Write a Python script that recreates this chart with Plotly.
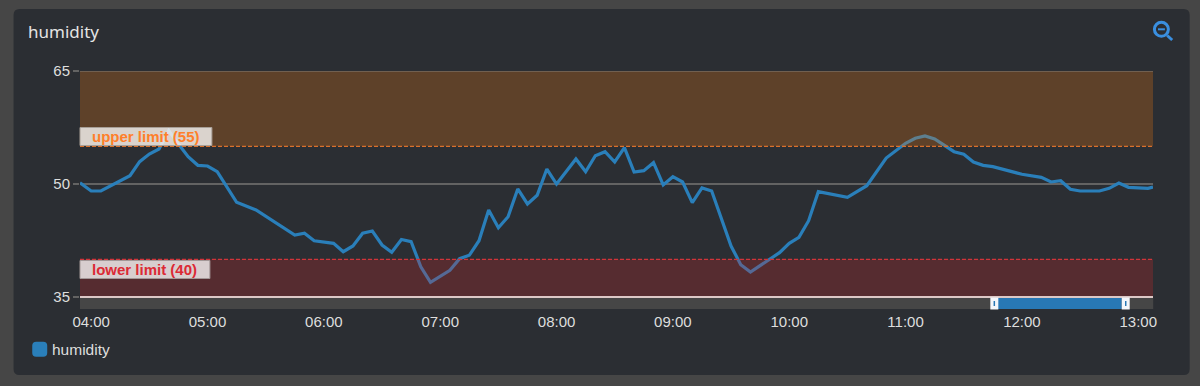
import plotly.graph_objects as go

# ---- data ----
times = ["03:54:14","04:00","04:05","04:20","04:25","04:30","04:35","04:40","04:45","04:50","04:55",
         "05:00","05:05","05:15","05:25","05:45","05:50","05:55","06:05","06:10","06:15","06:20",
         "06:25","06:30","06:35","06:40","06:45","06:50","06:55","07:05","07:10","07:15","07:20",
         "07:25","07:30","07:35","07:40","07:45","07:50","07:55","08:00","08:10","08:15","08:20",
         "08:25","08:30","08:35","08:40","08:45","08:50","08:55","09:00","09:05","09:10","09:15",
         "09:20","09:30","09:35","09:40","09:50","09:55","10:00","10:05","10:10","10:15","10:30",
         "10:40","10:50","11:00","11:05","11:10","11:15","11:25","11:30","11:35","11:40","11:45",
         "12:00","12:10","12:15","12:20","12:25","12:30","12:40","12:45","12:50","12:55","13:05","13:07:36"]
humidity = [50.17,49.07,49.07,51.10,52.96,53.98,54.65,57.10,55.30,53.62,52.48,
            52.39,51.63,47.57,46.55,43.23,43.46,42.47,42.13,41.01,41.77,43.46,
            43.76,41.90,40.93,42.63,42.34,39.02,36.95,38.54,40.08,40.54,42.47,
            46.55,44.20,45.66,49.34,47.35,48.50,51.99,50.00,53.32,51.63,53.76,
            54.29,52.92,54.82,51.59,51.77,52.83,49.87,50.97,50.27,47.52,49.47,
            49.07,41.77,39.29,38.32,40.00,40.88,42.13,42.92,45.13,48.98,48.23,
            49.77,53.45,55.40,56.07,56.37,55.97,54.29,53.94,52.92,52.48,52.30,
            51.29,50.89,50.27,50.44,49.30,49.07,49.07,49.43,50.13,49.56,49.43,49.60]
y_ticks = [35, 50, 65]
upper_limit = 55
lower_limit = 40
series_name = "humidity"
upper_label = "upper limit (55)"
lower_label = "lower limit (40)"
DAY = "2024-01-01 "

# ---- layout geometry (pixels) ----
W, H = 1200, 386
L, R, T, B = 79.5, 1153.3, 71, 297
PW, PH = R - L, B - T
PAGE, CARD = "#464646", "#2b2e33"
TEXT = "#dedede"
def fx(p): return (p - L) / PW
def fy(p): return (B - p) / PH

x = [DAY + t for t in times]
fig = go.Figure(go.Scatter(x=x, y=humidity, mode="lines", name=series_name, showlegend=False,
                           line=dict(color="#2a7fba", width=3.2, shape="linear"), hoverinfo="x+y"))

def rect(x0, y0, x1, y1, fill, layer="below", line=None):
    return dict(type="rect", xref="paper", yref="paper", x0=fx(x0), x1=fx(x1), y0=fy(y1), y1=fy(y0),
                fillcolor=fill, layer=layer, line=line or dict(width=0))

def rrect(x0, y0, x1, y1, r, fill, layer="below"):
    p = (f"M{fx(x0+r)},{fy(y0)} L{fx(x1-r)},{fy(y0)} Q{fx(x1)},{fy(y0)} {fx(x1)},{fy(y0+r)} "
         f"L{fx(x1)},{fy(y1-r)} Q{fx(x1)},{fy(y1)} {fx(x1-r)},{fy(y1)} L{fx(x0+r)},{fy(y1)} "
         f"Q{fx(x0)},{fy(y1)} {fx(x0)},{fy(y1-r)} L{fx(x0)},{fy(y0+r)} Q{fx(x0)},{fy(y0)} {fx(x0+r)},{fy(y0)} Z")
    return dict(type="path", xref="paper", yref="paper", path=p, fillcolor=fill, layer=layer, line=dict(width=0))

def seg(x0, y0, x1, y1, color, width):
    return dict(type="line", xref="paper", yref="paper", x0=fx(x0), x1=fx(x1), y0=fy(y0), y1=fy(y1),
                layer="above", line=dict(color=color, width=width))

shapes = [
    rrect(13, 9, 1190, 375, 6, CARD),
    # limit bands, drawn over the line
    dict(type="rect", xref="paper", yref="y", x0=0, x1=1, y0=upper_limit, y1=max(y_ticks),
         fillcolor="rgba(255,127,14,0.245)", layer="above", line=dict(width=0)),
    dict(type="rect", xref="paper", yref="y", x0=0, x1=1, y0=min(y_ticks), y1=lower_limit,
         fillcolor="rgba(214,39,40,0.25)", layer="above", line=dict(width=0)),
    dict(type="line", xref="paper", yref="y", x0=0, x1=1, y0=upper_limit, y1=upper_limit,
         layer="above", line=dict(color="#d9702c", width=1.2, dash="4px,2px")),
    dict(type="line", xref="paper", yref="y", x0=0, x1=1, y0=lower_limit, y1=lower_limit,
         layer="above", line=dict(color="#d0343a", width=1.2, dash="4px,2px")),
    dict(type="line", xref="paper", yref="y", x0=0, x1=1, y0=max(y_ticks), y1=max(y_ticks),
         layer="above", line=dict(color="#776a5e", width=1.5)),
    rect(79.5, 296, 1153.3, 298, "#dcc8c6", "above"),
    # range selector
    rect(79.5, 298, 1153.5, 309, "#464646", "above"),
    rect(995, 298, 1122, 309, "#2878b5", "above"),
    rect(990.5, 297.5, 998.5, 309.5, "#f4f7fb", "above"),
    rect(1122, 297.5, 1130, 309.5, "#f4f7fb", "above"),
    seg(994.5, 301, 994.5, 306, "#2878b5", 1.5),
    seg(1126, 301, 1126, 306, "#2878b5", 1.5),
    # limit label boxes
    rect(79.5, 127.5, 211.5, 145.5, "rgba(255,255,255,0.77)", "above", dict(color="#a89f97", width=1)),
    rect(79.5, 260.5, 209.5, 278.5, "rgba(255,255,255,0.77)", "above", dict(color="#a39797", width=1)),
    # legend key
    rrect(31.7, 341.7, 46.7, 356.7, 4, "#2a7fba", "above"),
    # zoom icon
    dict(type="circle", xref="paper", yref="paper", x0=fx(1154.7), x1=fx(1168.7), y0=fy(36.3), y1=fy(22.3),
         layer="above", line=dict(color="#3a8fe0", width=3)),
    seg(1167.5, 35.5, 1172.5, 40, "#3a8fe0", 3),
    seg(1158.3, 29.3, 1165.2, 29.3, "#3a8fe0", 2),
]

def note(text, px_, py_, color, size, bold=False, family="Liberation Sans", anchor="left"):
    return dict(text=f"<b>{text}</b>" if bold else text, xref="paper", yref="paper", x=fx(px_), y=fy(py_),
                xanchor=anchor, yanchor="middle", showarrow=False,
                font=dict(color=color, size=size, family=family))

annotations = [
    note(series_name, 25.5, 31.5, "#e4e4e4", 17, family="Noto Sans"),
    note(series_name, 49.5, 349.5, TEXT, 15.5),
    note(upper_label, 90, 136.5, "#ff7f2a", 15, True),
    note(lower_label, 90, 269.5, "#dc2a35", 15, True),
]

fig.update_layout(
    width=W, height=H, autosize=False,
    margin=dict(l=L, r=W - R, t=T, b=H - B, pad=0),
    paper_bgcolor=PAGE, plot_bgcolor="rgba(0,0,0,0)",
    font=dict(family="Liberation Sans", size=15, color=TEXT),
    showlegend=False, shapes=shapes, annotations=annotations,
    xaxis=dict(type="date", range=[x[0], x[-1]], tick0=DAY + "04:00", dtick=3600000,
               tickformat="%H:%M", showgrid=False, zeroline=False, showline=False,
               ticks="", ticklabelstandoff=14, tickfont=dict(size=15, color=TEXT)),
    yaxis=dict(range=[min(y_ticks), max(y_ticks)], tickvals=y_ticks, showgrid=True,
               gridcolor="#636363", gridwidth=1.5, zeroline=False, showline=False,
               ticks="outside", ticklen=6, tickcolor="#636363", tickwidth=1.5,
               ticklabelstandoff=0, tickfont=dict(size=15, color=TEXT)),
)

fig.write_html("out.html", config=dict(displayModeBar=False),
               post_script="document.body.style.margin='0';document.body.style.background='#464646';document.body.style.overflow='hidden';")
